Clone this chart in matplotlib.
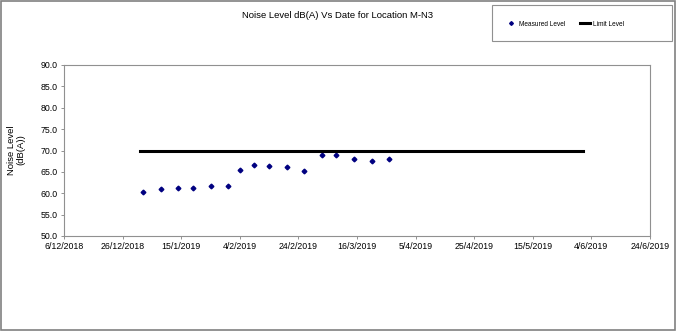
#!/usr/bin/env python3
import matplotlib
matplotlib.use("Agg")
import matplotlib.pyplot as plt
import matplotlib.dates as mdates
import numpy as np
import datetime as dt

plt.rcParams['font.family'] = ['Liberation Sans', 'DejaVu Sans']

meas_dates = ["2019-01-02", "2019-01-08", "2019-01-14", "2019-01-19", "2019-01-25",
              "2019-01-31", "2019-02-04", "2019-02-09", "2019-02-14", "2019-02-20",
              "2019-02-26", "2019-03-04", "2019-03-09", "2019-03-15", "2019-03-21",
              "2019-03-27"]
meas_level = [60.4, 60.9, 61.3, 61.3, 61.8, 61.8, 65.5, 66.5, 66.3, 66.1,
              65.1, 68.9, 68.9, 68.1, 67.6, 68.1]
limit_dates = ["2019-01-01", "2019-06-01"]
limit_level = [70.0, 70.0]

x_start = dt.date(2018, 12, 6)
x_end = dt.date(2019, 6, 24)

md = [dt.datetime.strptime(d, "%Y-%m-%d") for d in meas_dates]
ld = [dt.datetime.strptime(d, "%Y-%m-%d") for d in limit_dates]

W, H = 676, 331
fig = plt.figure(figsize=(W/100, H/100), dpi=100)
ax = fig.add_axes([64/W, 1-236/H, (650-64)/W, (236-65)/H])

ax.plot(md, meas_level, linestyle="none", marker="D", markersize=2.4,
        color="#000080", label="Measured Level")
ax.plot(ld, limit_level, color="black", lw=2.2, label="Limit Level")

ax.set_xlim(mdates.date2num(x_start), mdates.date2num(x_end))
ax.set_ylim(50, 90)
ticks = [x_start + dt.timedelta(days=20*i) for i in range(11)]
ax.set_xticks(mdates.date2num(ticks))
ax.set_xticklabels(["%d/%d/%d" % (t.day, t.month, t.year) for t in ticks])
ax.set_yticks(np.arange(50, 90.1, 5))
ax.set_yticklabels(["%.1f" % v for v in np.arange(50, 90.1, 5)])
ax.tick_params(labelsize=6.3, length=2.5, width=0.6, color="#808080", pad=2)
for s in ax.spines.values():
    s.set_color("#909090")
    s.set_linewidth(0.8)

fig.text(16/W, 1-150/H, "Noise Level\n(dB(A))", rotation=90, ha="center",
         va="center", fontsize=6.8, linespacing=1.1)
fig.text(337/W, 1-16/H, "Noise Level dB(A) Vs Date for Location M-N3",
         ha="center", va="center", fontsize=6.8)

leg = fig.legend(loc="center left", bbox_to_anchor=(500/W, 1-24/H), ncol=2,
                 fontsize=4.7, frameon=False, handlelength=1.6,
                 columnspacing=2.2, handletextpad=0.45, markerscale=0.8)
fig.patches.append(plt.Rectangle((492/W, 1-41/H), 180/W, 36/H, transform=fig.transFigure,
                                 fill=False, edgecolor="#909090", lw=0.8))

fig.patches.append(plt.Rectangle((0.001, 0.002), 0.997, 0.995, transform=fig.transFigure,
                                 fill=False, edgecolor="#808080", lw=1.2))

fig.savefig("out.png", dpi=100)
